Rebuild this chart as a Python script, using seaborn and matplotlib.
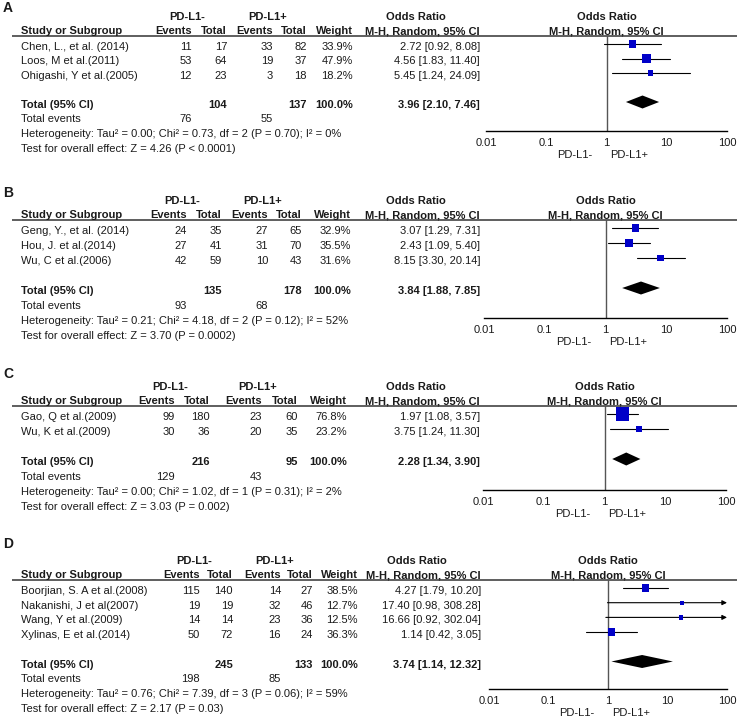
import matplotlib
matplotlib.use("Agg")
import numpy as np
import pandas as pd
import matplotlib.pyplot as plt
import seaborn as sns

W, H = 739, 718

# Panel A
a_studies = ["Chen, L., et al. (2014)", "Loos, M et al.(2011)", "Ohigashi, Y et al.(2005)"]
a_neg_events = [11, 53, 12]
a_neg_total = [17, 64, 23]
a_pos_events = [33, 19, 3]
a_pos_total = [82, 37, 18]
a_weight = [33.9, 47.9, 18.2]
a_or = [2.72, 4.56, 5.45]
a_lo = [0.92, 1.83, 1.24]
a_hi = [8.08, 11.40, 24.09]
a_pooled = [3.96, 2.10, 7.46]
a_het = "Heterogeneity: Tau² = 0.00; Chi² = 0.73, df = 2 (P = 0.70); I² = 0%"
a_test = "Test for overall effect: Z = 4.26 (P < 0.0001)"

# Panel B
b_studies = ["Geng, Y., et al. (2014)", "Hou, J. et al.(2014)", "Wu, C et al.(2006)"]
b_neg_events = [24, 27, 42]
b_neg_total = [35, 41, 59]
b_pos_events = [27, 31, 10]
b_pos_total = [65, 70, 43]
b_weight = [32.9, 35.5, 31.6]
b_or = [3.07, 2.43, 8.15]
b_lo = [1.29, 1.09, 3.30]
b_hi = [7.31, 5.40, 20.14]
b_pooled = [3.84, 1.88, 7.85]
b_het = "Heterogeneity: Tau² = 0.21; Chi² = 4.18, df = 2 (P = 0.12); I² = 52%"
b_test = "Test for overall effect: Z = 3.70 (P = 0.0002)"

# Panel C
c_studies = ["Gao, Q et al.(2009)", "Wu, K et al.(2009)"]
c_neg_events = [99, 30]
c_neg_total = [180, 36]
c_pos_events = [23, 20]
c_pos_total = [60, 35]
c_weight = [76.8, 23.2]
c_or = [1.97, 3.75]
c_lo = [1.08, 1.24]
c_hi = [3.57, 11.30]
c_pooled = [2.28, 1.34, 3.90]
c_het = "Heterogeneity: Tau² = 0.00; Chi² = 1.02, df = 1 (P = 0.31); I² = 2%"
c_test = "Test for overall effect: Z = 3.03 (P = 0.002)"

# Panel D
d_studies = ["Boorjian, S. A et al.(2008)", "Nakanishi, J et al(2007)",
             "Wang, Y et al.(2009)", "Xylinas, E et al.(2014)"]
d_neg_events = [115, 19, 14, 50]
d_neg_total = [140, 19, 14, 72]
d_pos_events = [14, 32, 23, 16]
d_pos_total = [27, 46, 36, 24]
d_weight = [38.5, 12.7, 12.5, 36.3]
d_or = [4.27, 17.40, 16.66, 1.14]
d_lo = [1.79, 0.98, 0.92, 0.42]
d_hi = [10.20, 308.28, 302.04, 3.05]
d_pooled = [3.74, 1.14, 12.32]
d_het = "Heterogeneity: Tau² = 0.76; Chi² = 7.39, df = 3 (P = 0.06); I² = 59%"
d_test = "Test for overall effect: Z = 2.17 (P = 0.03)"

ticks = [0.01, 0.1, 1, 10, 100]
tick_labels = ["0.01", "0.1", "1", "10", "100"]

panels = [
    dict(letter="A", studies=a_studies, ne=a_neg_events, nt=a_neg_total, pe=a_pos_events,
         pt=a_pos_total, w=a_weight, est=a_or, lo=a_lo, hi=a_hi, pooled=a_pooled,
         het=a_het, test=a_test),
    dict(letter="B", studies=b_studies, ne=b_neg_events, nt=b_neg_total, pe=b_pos_events,
         pt=b_pos_total, w=b_weight, est=b_or, lo=b_lo, hi=b_hi, pooled=b_pooled,
         het=b_het, test=b_test),
    dict(letter="C", studies=c_studies, ne=c_neg_events, nt=c_neg_total, pe=c_pos_events,
         pt=c_pos_total, w=c_weight, est=c_or, lo=c_lo, hi=c_hi, pooled=c_pooled,
         het=c_het, test=c_test),
    dict(letter="D", studies=d_studies, ne=d_neg_events, nt=d_neg_total, pe=d_pos_events,
         pt=d_pos_total, w=d_weight, est=d_or, lo=d_lo, hi=d_hi, pooled=d_pooled,
         het=d_het, test=d_test),
]

# pixel layout of each panel: header rule, row height, axis line, column right edges
layout = [
    dict(label_y=8, line_y=36, row_h=14.5, axis_y=131, cols=[192, 227, 273, 307, 353, 480], ax_x=(486, 727)),
    dict(label_y=193, line_y=220, row_h=15.0, axis_y=318, cols=[187, 222, 268, 302, 351, 480], ax_x=(484, 727)),
    dict(label_y=374, line_y=406, row_h=15.0, axis_y=490, cols=[175, 210, 262, 298, 347, 480], ax_x=(483, 726)),
    dict(label_y=544, line_y=580, row_h=14.7, axis_y=689, cols=[200, 233, 281, 313, 358, 481], ax_x=(489, 727)),
]

sns.set_style("white")
plt.rcParams["font.family"] = ["Liberation Sans", "DejaVu Sans"]
FS = 8
TXT = "#1a1a1a"
BLUE = "#0000c8"

fig = plt.figure(figsize=(W / 100, H / 100), dpi=100)
bg = fig.add_axes([0, 0, 1, 1])
bg.set_xlim(0, W)
bg.set_ylim(H, 0)
bg.axis("off")


def txt(x, y, s, ha="left", bold=False, size=FS):
    bg.text(x, y, s, ha=ha, va="center", fontsize=size, color=TXT,
            fontweight="bold" if bold else "normal")


for p, lay in zip(panels, layout):
    n = len(p["studies"])
    line_y, row_h, axis_y = lay["line_y"], lay["row_h"], lay["axis_y"]
    ev1, tot1, ev2, tot2, wcol, orcol = lay["cols"]
    x0, x1 = lay["ax_x"]
    first = line_y + 8

    def row_px(i):
        return first + i * row_h + 3

    # panel letter and headers
    txt(3, lay["label_y"], p["letter"], bold=True, size=10)
    h1, h2 = line_y - 19, line_y - 5
    txt((ev1 - 34 + tot1) / 2 - 5, h1, "PD-L1-", ha="center", bold=True)
    txt((ev2 - 34 + tot2) / 2 - 5, h1, "PD-L1+", ha="center", bold=True)
    txt(orcol - 64, h1, "Odds Ratio", ha="center", bold=True)
    txt((x0 + x1) / 2, h1, "Odds Ratio", ha="center", bold=True)
    txt(21, h2, "Study or Subgroup", bold=True)
    for x, s in zip([ev1, tot1, ev2, tot2, wcol, orcol],
                    ["Events", "Total", "Events", "Total", "Weight", "M-H, Random, 95% CI"]):
        txt(x, h2, s, ha="right", bold=True)
    txt((x0 + x1) / 2, h2, "M-H, Random, 95% CI", ha="center", bold=True)
    bg.plot([12, 737], [line_y, line_y], color="#333333", lw=1.1, solid_capstyle="butt")

    # study rows
    for i in range(n):
        y = row_px(i)
        txt(21, y, p["studies"][i])
        txt(ev1, y, str(p["ne"][i]), ha="right")
        txt(tot1, y, str(p["nt"][i]), ha="right")
        txt(ev2, y, str(p["pe"][i]), ha="right")
        txt(tot2, y, str(p["pt"][i]), ha="right")
        txt(wcol, y, f"{p['w'][i]:.1f}%", ha="right")
        txt(orcol, y, f"{p['est'][i]:.2f} [{p['lo'][i]:.2f}, {p['hi'][i]:.2f}]", ha="right")

    # totals
    est, lo, hi = p["pooled"]
    y = row_px(n + 1)
    txt(21, y, "Total (95% CI)", bold=True)
    txt(tot1, y, str(sum(p["nt"])), ha="right", bold=True)
    txt(tot2, y, str(sum(p["pt"])), ha="right", bold=True)
    txt(wcol, y, "100.0%", ha="right", bold=True)
    txt(orcol, y, f"{est:.2f} [{lo:.2f}, {hi:.2f}]", ha="right", bold=True)
    y = row_px(n + 2)
    txt(21, y, "Total events")
    txt(ev1, y, str(sum(p["ne"])), ha="right")
    txt(ev2, y, str(sum(p["pe"])), ha="right")
    txt(21, row_px(n + 3), p["het"])
    txt(21, row_px(n + 4), p["test"])

    # forest plot axes
    ax = fig.add_axes([x0 / W, 1 - axis_y / H, (x1 - x0) / W, (axis_y - line_y) / H])
    ax.patch.set_alpha(0)
    ax.set_xscale("log")
    ax.set_xlim(0.01, 100)
    ax.set_ylim((axis_y - first) / row_h, (line_y - first) / row_h)

    rows = np.arange(n)
    df = pd.DataFrame({"est": p["est"], "lo": p["lo"], "hi": p["hi"], "w": p["w"], "row": rows})
    ax.axvline(1, color="#555555", lw=1, zorder=1)
    for _, r in df.iterrows():
        if r["hi"] > 100:
            ax.annotate("", xy=(100, r["row"]), xytext=(r["lo"], r["row"]),
                        arrowprops=dict(arrowstyle="-|>", lw=0.8, color="black",
                                        mutation_scale=7, shrinkA=0, shrinkB=0),
                        annotation_clip=False)
        else:
            ax.plot([r["lo"], r["hi"]], [r["row"], r["row"]], color="black", lw=0.8, zorder=2)

    # square side grows with study weight
    size_map = {w: ((2.5 + 0.14 * w) * 0.72) ** 2 for w in p["w"]}
    sns.scatterplot(data=df, x="est", y="row", size="w", sizes=size_map, marker="s",
                    color=BLUE, linewidth=0, legend=False, ax=ax, zorder=3)

    # pooled diamond
    ty = n + 1
    hh = 6.5 / row_h
    ax.fill([lo, est, hi, est], [ty, ty - hh, ty, ty + hh], color="black", lw=0, zorder=3)

    for s in ["top", "left", "right"]:
        ax.spines[s].set_visible(False)
    ax.spines["bottom"].set_color("black")
    ax.spines["bottom"].set_linewidth(1)
    ax.set_xticks(ticks)
    ax.set_xticklabels(tick_labels)
    ax.minorticks_off()
    ax.set_yticks([])
    ax.tick_params(axis="x", direction="inout", length=6, width=1, color="black",
                   labelsize=FS, labelcolor=TXT, pad=2)
    ax.set_xlabel("")
    ax.set_ylabel("")

    xm = (x0 + x1) / 2
    txt(xm - 14, axis_y + 24, "PD-L1-", ha="right")
    txt(xm + 4, axis_y + 24, "PD-L1+")

fig.savefig("out.png", dpi=100)
